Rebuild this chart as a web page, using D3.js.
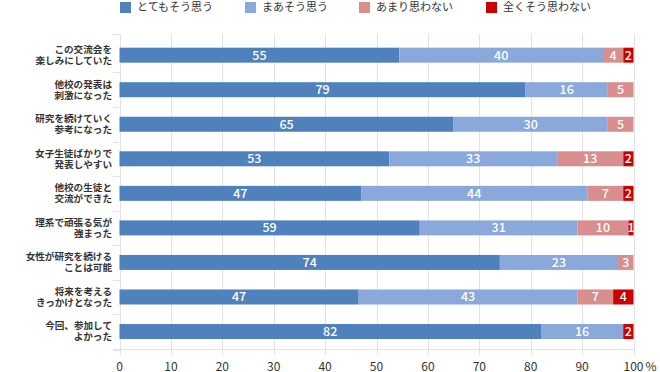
<!DOCTYPE html>
<html><head><meta charset="utf-8">
<script src="https://cdn.jsdelivr.net/npm/d3@7"></script>
<style>
html,body{margin:0;padding:0;background:#fff;}
svg{display:block;font-family:"Noto Sans CJK JP","Noto Sans",sans-serif;}
</style></head>
<body><svg id="c" width="660" height="372"></svg>
<script>
const categories = [
  ["この交流会を","楽しみにしていた"],
  ["他校の発表は","刺激になった"],
  ["研究を続けていく","参考になった"],
  ["女子生徒ばかりで","発表しやすい"],
  ["他校の生徒と","交流ができた"],
  ["理系で頑張る気が","強まった"],
  ["女性が研究を続ける","ことは可能"],
  ["将来を考える","きっかけとなった"],
  ["今回、参加して","よかった"]
];
const seriesNames = ["とてもそう思う","まあそう思う","あまり思わない","全くそう思わない"];
const strongAgree = [55,79,65,53,47,59,74,47,82];
const agree       = [40,16,30,33,44,31,23,43,16];
const disagree    = [4,5,5,13,7,10,3,7,0];
const strongDis   = [2,0,0,2,2,1,0,4,2];
const xTicks = [0,10,20,30,40,50,60,70,80,90,100];
const colors = ["#4f81bd","#8aa8d9","#d78e8d","#cc0000"];

const svg = d3.select("#c");
const rows = categories.map((c,i)=>({i, s0:strongAgree[i], s1:agree[i], s2:disagree[i], s3:strongDis[i]}));
const keys = ["s0","s1","s2","s3"];
const stacked = d3.stack().keys(keys).offset(d3.stackOffsetExpand)(rows);

const x = d3.scaleLinear().domain([0,1]).range([119.5,633.5]);
const xAx = d3.scaleLinear().domain([0,100]).range([119.5,633.5]);
const y = d3.scaleBand().domain(d3.range(categories.length)).range([37.9,348.8]).paddingInner(0).paddingOuter(0);
const barH = 15;

// gridlines
const grid = svg.append("g");
grid.selectAll("line").data(xTicks).join("line")
  .attr("x1",d=>Math.round(xAx(d))+0.5).attr("x2",d=>Math.round(xAx(d))+0.5)
  .attr("y1",34).attr("y2",355)
  .attr("stroke","#e2e2e2").attr("stroke-width",1);
// left ticks at band boundaries
const bounds = [34].concat(d3.range(1,categories.length).map(i=>y(i)), [349.5]);
grid.selectAll("line.lt").data(bounds).join("line").attr("class","lt")
  .attr("x1",113).attr("x2",120).attr("y1",d=>Math.round(d)+0.5).attr("y2",d=>Math.round(d)+0.5)
  .attr("stroke","#e2e2e2");
// bottom axis line
svg.append("line").attr("x1",113).attr("x2",634).attr("y1",349.5).attr("y2",349.5).attr("stroke","#e2e2e2");

// bars
const gb = svg.append("g");
stacked.forEach((layer,k)=>{
  gb.selectAll(null).data(layer).join("rect")
    .attr("x",d=>x(d[0])).attr("width",d=>Math.max(0,x(d[1])-x(d[0])))
    .attr("y",d=>y(d.data.i)+y.bandwidth()/2-barH/2).attr("height",barH)
    .attr("fill",colors[k]);
  gb.selectAll(null).data(layer.filter(d=>d.data[keys[k]]>0)).join("text")
    .attr("x",d=>(x(d[0])+x(d[1]))/2).attr("y",d=>y(d.data.i)+y.bandwidth()/2)
    .attr("dy","0.36em").attr("text-anchor","middle")
    .attr("fill","#fff").attr("font-size","12.5px").attr("font-weight","500")
    .text(d=>d.data[keys[k]]);
});

// category labels
const gl = svg.append("g");
categories.forEach((c,i)=>{
  const t = gl.append("text").attr("text-anchor","end")
    .attr("font-size","9.6px").attr("font-weight","bold").attr("fill","#333");
  c.forEach((line,j)=>{
    t.append("tspan").attr("x",112).attr("y",y(i)+y.bandwidth()/2 + (j===0?-5.5:5.5)).attr("dy","0.35em").text(line);
  });
});

// x tick labels
svg.append("g").selectAll("text").data(xTicks).join("text")
  .attr("x",d=>xAx(d)).attr("y",367).attr("dy","0.35em").attr("text-anchor","middle")
  .attr("font-size","12px").attr("fill","#333")
  .text(d=>d);
svg.append("text").attr("x",xAx(100)+12).attr("y",367).attr("dy","0.35em")
  .attr("font-size","12px").attr("fill","#333").text("%");

// legend
const legX = [120,245,359,486];
const lg = svg.append("g");
seriesNames.forEach((n,k)=>{
  lg.append("rect").attr("x",legX[k]).attr("y",2).attr("width",11).attr("height",11).attr("fill",colors[k]);
  lg.append("text").attr("x",legX[k]+17).attr("y",7.5).attr("dy","0.35em")
    .attr("font-size","11px").attr("fill","#333").text(n);
});
</script></body></html>
